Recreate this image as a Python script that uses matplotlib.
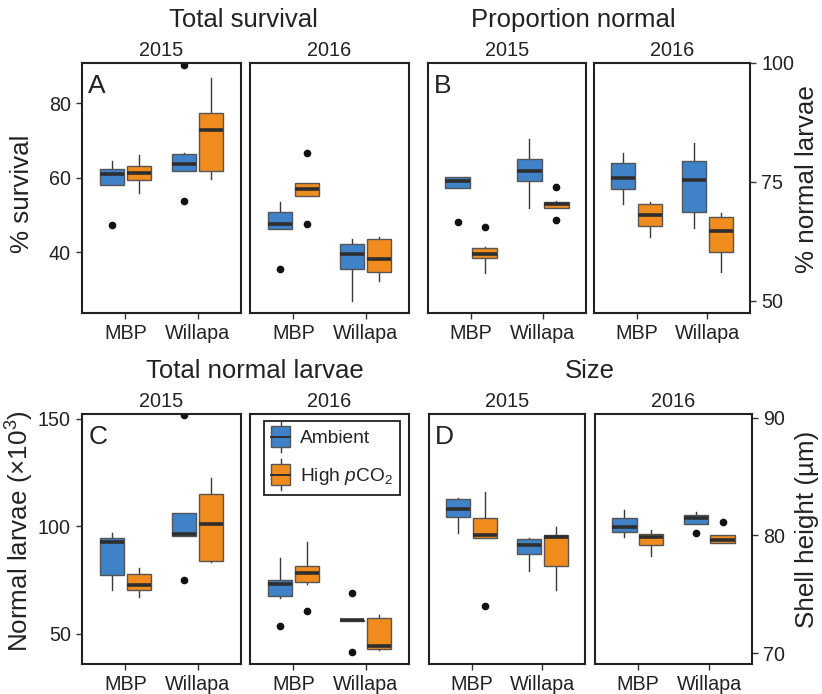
import matplotlib
matplotlib.use("Agg")
import matplotlib.pyplot as plt
from matplotlib.patches import Rectangle, Patch
from matplotlib.lines import Line2D
from matplotlib.legend_handler import HandlerBase

plt.rcParams['font.family'] = ['Liberation Sans', 'DejaVu Sans']
plt.rcParams['mathtext.fontset'] = 'custom'
plt.rcParams['mathtext.rm'] = 'Liberation Sans'
plt.rcParams['mathtext.it'] = 'Liberation Sans:italic'
plt.rcParams['mathtext.bf'] = 'Liberation Sans:bold'

# ---------------- data ----------------
groups = ["MBP", "Willapa"]
years = ["2015", "2016"]
treatments = ["Ambient", r"High $\mathit{p}$CO$_2$"]
# order in each array: 2015 [MBP-amb, MBP-high, Will-amb, Will-high], 2016 [same]

# A: Total survival (%)
surv_whislo = [58.0, 55.8, 61.9, 59.6, 46.2, 55.0, 26.8, 32.4]
surv_q1     = [58.0, 59.5, 61.9, 61.7, 46.2, 55.0, 35.4, 34.8]
surv_med    = [61.1, 61.3, 63.8, 72.7, 47.5, 57.1, 39.6, 38.3]
surv_q3     = [62.4, 63.1, 66.4, 77.3, 50.7, 58.6, 42.2, 43.6]
surv_whishi = [64.6, 66.1, 66.6, 86.7, 53.6, 58.6, 43.5, 44.2]
surv_fliers = [[47.2], [], [90.3, 53.7], [], [35.4], [66.6, 47.6], [], []]

# B: Proportion normal (%)
norm_whislo = [73.8, 55.8, 69.4, 69.4, 70.3, 63.4, 65.3, 56.1]
norm_q1     = [73.8, 58.9, 75.2, 69.4, 73.4, 65.8, 68.7, 60.3]
norm_med    = [75.2, 59.9, 77.3, 70.3, 75.8, 68.0, 75.4, 64.7]
norm_q3     = [76.0, 61.1, 79.9, 70.8, 78.9, 70.4, 79.4, 67.6]
norm_whishi = [76.1, 61.2, 84.1, 70.9, 81.0, 70.7, 83.1, 68.4]
norm_fliers = [[66.6], [65.5], [], [74.0, 67.0], [], [], [], []]

# C: Total normal larvae (x10^3)
tot_whislo = [70.5, 67.1, 95.6, 83.5, 66.6, 73.1, 55.8, 42.6]
tot_q1     = [77.3, 70.5, 95.6, 84.0, 67.5, 74.0, 55.8, 43.0]
tot_med    = [92.9, 72.9, 96.4, 100.9, 73.4, 78.2, 56.3, 44.4]
tot_q3     = [94.8, 78.1, 106.1, 115.0, 75.1, 81.8, 56.7, 57.3]
tot_whishi = [97.1, 80.5, 106.4, 122.7, 85.2, 92.8, 56.7, 58.7]
tot_fliers = [[], [], [151.9, 75.3], [], [53.9], [60.7], [68.8, 41.6], []]

# D: Size, shell height (um)
size_whislo = [80.2, 79.8, 77.0, 75.4, 79.9, 78.3, 81.0, 79.4]
size_q1     = [81.6, 79.8, 78.4, 77.4, 80.3, 79.2, 81.0, 79.4]
size_med    = [82.25, 80.0, 79.2, 79.85, 80.7, 79.9, 81.5, 79.6]
size_q3     = [83.1, 81.5, 79.7, 80.05, 81.5, 80.1, 81.7, 80.0]
size_whishi = [83.2, 83.7, 79.8, 80.7, 82.2, 80.5, 82.0, 80.0]
size_fliers = [[], [74.0], [], [], [], [], [80.2], [81.1]]

# ---------------- style ----------------
W, H = 822, 694
COL = ["#3f82c8", "#f08c1e"]
EDGE = "#555555"
DARK = "#2e2e2e"

fig = plt.figure(figsize=(W / 100, H / 100), dpi=100)


def fx(px):
    return px / W


def fy(px):
    return 1 - px / H


def make_axes(x0, x1, y0, y1):
    return fig.add_axes([fx(x0), fy(y1), fx(x1 - x0), (y1 - y0) / H])


def draw_panel(ax, idx, whislo, q1, med, q3, whishi, fliers):
    stats, pos, cols = [], [], []
    for g in range(2):
        for t in range(2):
            k = idx * 4 + g * 2 + t
            stats.append(dict(whislo=whislo[k], q1=q1[k], med=med[k], q3=q3[k],
                              whishi=whishi[k], fliers=fliers[k]))
            pos.append(g + (-0.1875 if t == 0 else 0.1875))
            cols.append(COL[t])
    bp = ax.bxp(stats, positions=pos, widths=0.34, patch_artist=True,
                showcaps=False,
                boxprops=dict(edgecolor=EDGE, linewidth=1.0),
                medianprops=dict(color=DARK, linewidth=2.6, solid_capstyle='butt'),
                whiskerprops=dict(color="#3a3a3a", linewidth=1.0),
                flierprops=dict(marker='o', markersize=4.5, markerfacecolor='#111111',
                                markeredgecolor='#111111'))
    for patch, c in zip(bp['boxes'], cols):
        patch.set_facecolor(c)
    for w in bp['whiskers']:
        w.set_zorder(1)
    ax.set_xlim(-0.6, 1.6)
    ax.set_xticks([0, 1])
    ax.set_xticklabels(groups, fontsize=14.2)
    for s in ax.spines.values():
        s.set_linewidth(1.5)
        s.set_color("#222222")
    ax.tick_params(axis='both', direction='out', length=4, width=1, color="#333333",
                   labelsize=14.2, labelcolor="#222222", pad=4)
    ax.set_title(years[idx], fontsize=14.3, pad=5, color="#222222")


rows = [
    (63, 313),
    (414, 664),
]
lx = [(82, 241), (250, 409)]
rx = [(428, 586), (594, 750)]
rx_d = [(429, 585), (595, 752)]

panels = [
    dict(name="A", title="Total survival", xs=lx, row=0, side="left",
         data=(surv_whislo, surv_q1, surv_med, surv_q3, surv_whishi, surv_fliers),
         ylim=(23.7, 90.8), yticks=[40, 60, 80], ylabel="% survival",
         tx=243, lab_x=22, lab_y=194),
    dict(name="B", title="Proportion normal", xs=rx, row=0, side="right",
         data=(norm_whislo, norm_q1, norm_med, norm_q3, norm_whishi, norm_fliers),
         ylim=(47.4, 100.0), yticks=[50, 75, 100], ylabel="% normal larvae",
         tx=573, lab_x=807, lab_y=179),
    dict(name="C", title="Total normal larvae", xs=lx, row=1, side="left",
         data=(tot_whislo, tot_q1, tot_med, tot_q3, tot_whishi, tot_fliers),
         ylim=(36.0, 152.3), yticks=[50, 100, 150], ylabel="Normal larvae (×10$^3$)",
         tx=255, lab_x=20, lab_y=531),
    dict(name="D", title="Size", xs=rx_d, row=1, side="right",
         data=(size_whislo, size_q1, size_med, size_q3, size_whishi, size_fliers),
         ylim=(69.1, 90.3), yticks=[70, 80, 90], ylabel="Shell height (µm)",
         tx=590, lab_x=807, lab_y=529),
]

legend_ax = None
for p in panels:
    y0, y1 = rows[p["row"]]
    axs = []
    for i, (x0, x1) in enumerate(p["xs"]):
        ax = make_axes(x0, x1, y0, y1)
        draw_panel(ax, i, *p["data"])
        ax.set_ylim(*p["ylim"])
        ax.set_yticks(p["yticks"])
        axs.append(ax)
    if p["side"] == "left":
        axs[1].tick_params(axis='y', left=False, labelleft=False)
    else:
        axs[0].tick_params(axis='y', left=False, labelleft=False)
        axs[1].tick_params(axis='y', left=False, labelleft=False, right=True, labelright=True)
    axs[0].text(0.04, 0.955, p["name"], transform=axs[0].transAxes, fontsize=19,
                va='top', ha='left', color="#222222")
    fig.text(fx(p["tx"]), fy(y0 - 36), p["title"], fontsize=18.5, ha='center',
             va='baseline', color="#222222")
    fig.text(fx(p["lab_x"]), fy(p["lab_y"]), p["ylabel"], fontsize=18.7, rotation=90,
             ha='center', va='center', color="#222222")
    if p["name"] == "C":
        legend_ax = axs[1]


class BoxHandler(HandlerBase):
    def create_artists(self, legend, orig_handle, xdescent, ydescent, width, height,
                       fontsize, trans):
        color = orig_handle.get_facecolor()
        x0 = -xdescent
        yb = -ydescent
        cx = x0 + width / 2
        whisk = Line2D([cx, cx], [yb - 0.45 * height, yb + 1.45 * height],
                       color="#3a3a3a", lw=1.0)
        rect = Rectangle((x0, yb - 0.15 * height), width, 1.3 * height,
                         facecolor=color, edgecolor=EDGE, lw=1.0)
        med = Line2D([x0, x0 + width], [yb + 0.5 * height] * 2, color=DARK, lw=1.4)
        for a in (whisk, rect, med):
            a.set_transform(trans)
        return [whisk, rect, med]


handles = [Patch(facecolor=COL[0]), Patch(facecolor=COL[1])]
leg = legend_ax.legend(handles, treatments, handler_map={Patch: BoxHandler()},
                       loc='upper left', bbox_to_anchor=(0.088, 0.972),
                       fontsize=13.8, frameon=True, fancybox=False, framealpha=1,
                       edgecolor="#222222", handlelength=1.0, handleheight=0.95,
                       labelspacing=1.0, handletextpad=0.5, borderpad=0.38,
                       borderaxespad=0.0)
leg.get_frame().set_linewidth(1.3)
for t in leg.get_texts():
    t.set_color("#222222")

fig.savefig("out.png", dpi=100)
